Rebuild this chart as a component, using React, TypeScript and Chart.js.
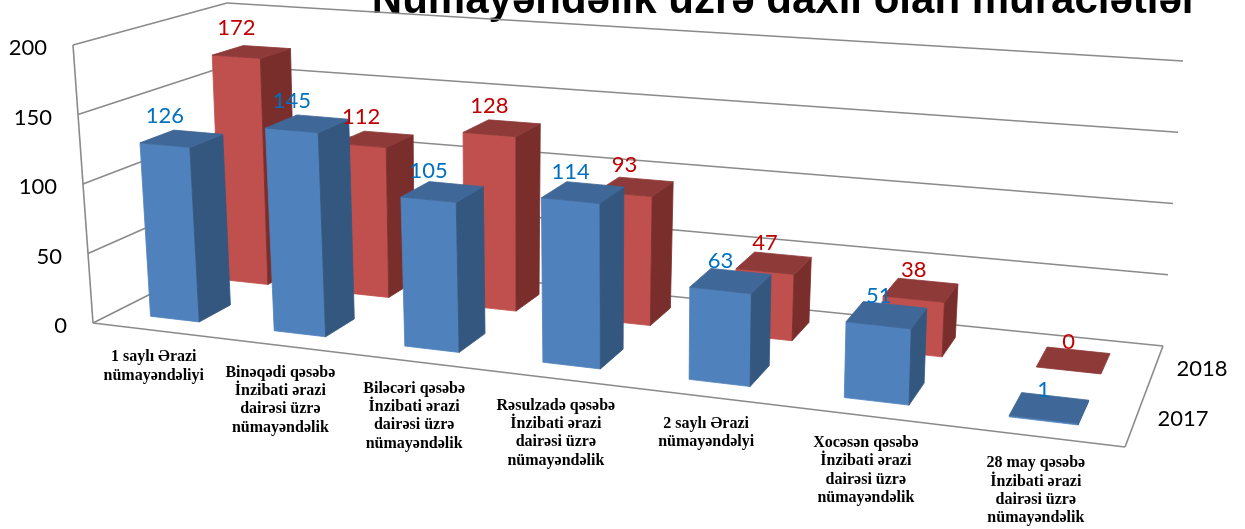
import React, { useEffect, useRef } from "react";
import { Chart, registerables } from "chart.js";

Chart.register(...registerables);

// ---------- data ----------
const title = "Nümayəndəlik üzrə daxil olan müraciətlər";
const categories: string[][] = [
  ["1 saylı Ərazi", "nümayəndəliyi"],
  ["Binəqədi qəsəbə", "İnzibati ərazi", "dairəsi üzrə", "nümayəndəlik"],
  ["Biləcəri qəsəbə", "İnzibati ərazi", "dairəsi üzrə", "nümayəndəlik"],
  ["Rəsulzadə qəsəbə", "İnzibati ərazi", "dairəsi üzrə", "nümayəndəlik"],
  ["2 saylı Ərazi", "nümayəndəlyi"],
  ["Xocəsən qəsəbə", "İnzibati ərazi", "dairəsi üzrə", "nümayəndəlik"],
  ["28 may qəsəbə", "İnzibati ərazi", "dairəsi üzrə", "nümayəndəlik"],
];
const seriesNames = ["2017", "2018"];
const values2017 = [126, 145, 105, 114, 63, 51, 1];
const values2018 = [172, 112, 128, 93, 47, 38, 0];
const yTicks = [0, 50, 100, 150, 200];

// ---------- styling ----------
const seriesStyle = [
  { front: "#4F81BD", side: "#34577F", top: "#3F6797", label: "#0070C0" },
  { front: "#C0504D", side: "#7A2E2C", top: "#8E3A38", label: "#C00000" },
];
const GRID = "#8a8a8a";

// projection: floor corners (u,w) = (0,0),(1,0),(1,1),(0,1)
const FLOOR = [
  [93, 323],
  [1125, 447],
  [1163, 346],
  [234, 252],
];
// vertical vectors for full height at floor corners
const VERT = {
  fl: [-20, -278],
  fr: [14, -308],
  br: [20, -285],
  bl: [-7, -249],
};

function quadMap(q: number[][]) {
  const [x0, y0] = q[0];
  const [x1, y1] = q[1];
  const [x2, y2] = q[2];
  const [x3, y3] = q[3];
  const sx = x0 - x1 + x2 - x3;
  const sy = y0 - y1 + y2 - y3;
  const dx1 = x1 - x2,
    dx2 = x3 - x2,
    dy1 = y1 - y2,
    dy2 = y3 - y2;
  const det = dx1 * dy2 - dx2 * dy1;
  const g = (sx * dy2 - dx2 * sy) / det;
  const h = (dx1 * sy - sx * dy1) / det;
  const a = x1 - x0 + g * x1,
    b = x3 - x0 + h * x3,
    c = x0;
  const d = y1 - y0 + g * y1,
    e = y3 - y0 + h * y3,
    f = y0;
  return (u: number, w: number) => {
    const den = g * u + h * w + 1;
    return [(a * u + b * w + c) / den, (d * u + e * w + f) / den];
  };
}
const floorMap = quadMap(FLOOR);

function P(u: number, v: number, w: number) {
  const [fx, fy] = floorMap(u, w);
  const k00 = (1 - u) * (1 - w),
    k10 = u * (1 - w),
    k11 = u * w,
    k01 = (1 - u) * w;
  const vx = k00 * VERT.fl[0] + k10 * VERT.fr[0] + k11 * VERT.br[0] + k01 * VERT.bl[0];
  const vy = k00 * VERT.fl[1] + k10 * VERT.fr[1] + k11 * VERT.br[1] + k01 * VERT.bl[1];
  return [fx + v * vx, fy + v * vy];
}

function poly(ctx: CanvasRenderingContext2D, pts: number[][], fill: string) {
  ctx.beginPath();
  ctx.moveTo(pts[0][0], pts[0][1]);
  for (let i = 1; i < pts.length; i++) ctx.lineTo(pts[i][0], pts[i][1]);
  ctx.closePath();
  ctx.fillStyle = fill;
  ctx.fill();
  ctx.strokeStyle = fill;
  ctx.lineWidth = 0.8;
  ctx.stroke();
}

function line(ctx: CanvasRenderingContext2D, a: number[], b: number[]) {
  ctx.beginPath();
  ctx.moveTo(a[0], a[1]);
  ctx.lineTo(b[0], b[1]);
  ctx.stroke();
}

const threeD = {
  id: "threeD",
  afterDraw(chart: any) {
    const ctx: CanvasRenderingContext2D = chart.ctx;
    const area = chart.chartArea;
    const xs = chart.scales.x;
    const ys = chart.scales.y;
    const nU = categories.length;
    const uOf = (i: number) => (xs.getPixelForValue(i) - area.left) / (area.right - area.left);
    const vOf = (val: number) => (area.bottom - ys.getPixelForValue(val)) / (area.bottom - area.top);
    const band = 1 / nU;
    const halfW = band * 0.2;
    const nS = chart.data.datasets.length;
    const rowDepth = 1 / nS;
    const halfD = rowDepth * 0.22;

    ctx.save();
    // title (partially off the top)
    ctx.fillStyle = "#000";
    ctx.font = "bold 42px 'Liberation Sans', Arial, sans-serif";
    ctx.textAlign = "center";
    ctx.textBaseline = "alphabetic";
    ctx.fillText(title, 785, 13);

    // walls & gridlines
    ctx.strokeStyle = GRID;
    ctx.lineWidth = 1.6;
    for (const t of yTicks) {
      const v = vOf(t);
      line(ctx, P(0, v, 0), P(0, v, 1));
      line(ctx, P(0, v, 1), P(1, v, 1));
    }
    line(ctx, P(0, 0, 0), P(0, 1, 0));
    line(ctx, P(0, 0, 0), P(1, 0, 0));
    line(ctx, P(1, 0, 0), P(1, 0, 1));

    // y tick labels
    ctx.fillStyle = "#000";
    ctx.font = "22px Lato, 'Open Sans', sans-serif";
    ctx.textAlign = "right";
    ctx.textBaseline = "middle";
    for (const t of yTicks) {
      const p = P(0, vOf(t), 0);
      ctx.fillText(String(t), p[0] - 26, p[1] + 3);
    }

    // bars: back row first
    const labels: { x: number; y: number; text: string; color: string }[] = [];
    for (let s = nS - 1; s >= 0; s--) {
      const ds = chart.data.datasets[s];
      const st = seriesStyle[s];
      const wc = (s + 0.5) * rowDepth;
      const w0 = wc - halfD,
        w1 = wc + halfD;
      for (let i = 0; i < nU; i++) {
        const uc = uOf(i);
        const u0 = uc - halfW,
          u1 = uc + halfW;
        const val = ds.data[i] as number;
        const v = vOf(val);
        if (v > 0.002) {
          poly(ctx, [P(u0, 0, w0), P(u1, 0, w0), P(u1, v, w0), P(u0, v, w0)], st.front);
          poly(ctx, [P(u1, 0, w0), P(u1, 0, w1), P(u1, v, w1), P(u1, v, w0)], st.side);
        }
        poly(ctx, [P(u0, v, w0), P(u1, v, w0), P(u1, v, w1), P(u0, v, w1)], st.top);
        const a = P(u0, v, w0),
          b = P(u1, v, w0);
        labels.push({ x: (a[0] + b[0]) / 2, y: (a[1] + b[1]) / 2 - 29, text: String(val), color: st.label });
      }
    }

    // data labels
    ctx.font = "22px Lato, 'Open Sans', sans-serif";
    ctx.textAlign = "center";
    ctx.textBaseline = "middle";
    for (const l of labels) {
      ctx.fillStyle = l.color;
      ctx.fillText(l.text, l.x, l.y);
    }

    // category labels
    ctx.fillStyle = "#000";
    ctx.font = "bold 16px 'Liberation Serif', 'Times New Roman', serif";
    for (let i = 0; i < nU; i++) {
      const p = P(uOf(i), 0, 0);
      categories[i].forEach((ln, j) => {
        ctx.fillText(ln, p[0], p[1] + 27 + j * 18.3);
      });
    }

    // series (depth axis) labels
    ctx.font = "22px Lato, 'Open Sans', sans-serif";
    ctx.textAlign = "left";
    for (let s = 0; s < nS; s++) {
      const p = P(1, 0, (s + 0.5) * rowDepth);
      ctx.fillText(seriesNames[s], p[0] + 22, p[1]);
    }
    ctx.restore();
  },
};

export default function App() {
  const ref = useRef<HTMLCanvasElement | null>(null);
  useEffect(() => {
    document.body.style.margin = "0";
    const canvas = ref.current!;
    const chart = new Chart(canvas, {
      type: "bar",
      data: {
        labels: categories.map((c) => c.join(" ")),
        datasets: [
          { label: seriesNames[0], data: values2017, backgroundColor: "rgba(0,0,0,0)" },
          { label: seriesNames[1], data: values2018, backgroundColor: "rgba(0,0,0,0)" },
        ],
      },
      options: {
        responsive: false,
        animation: false,
        devicePixelRatio: 1,
        layout: { padding: 0 },
        scales: {
          x: { display: false, offset: true, grid: { display: false } },
          y: { display: false, min: 0, max: 200, ticks: { stepSize: 50 } },
        },
        plugins: { legend: { display: false }, tooltip: { enabled: false }, title: { display: false } },
      },
      plugins: [threeD],
    });
    return () => chart.destroy();
  }, []);
  return (
    <div style={{ width: 1245, height: 529, background: "#fff" }}>
      <canvas ref={ref} width={1245} height={529} style={{ display: "block" }} />
    </div>
  );
}
